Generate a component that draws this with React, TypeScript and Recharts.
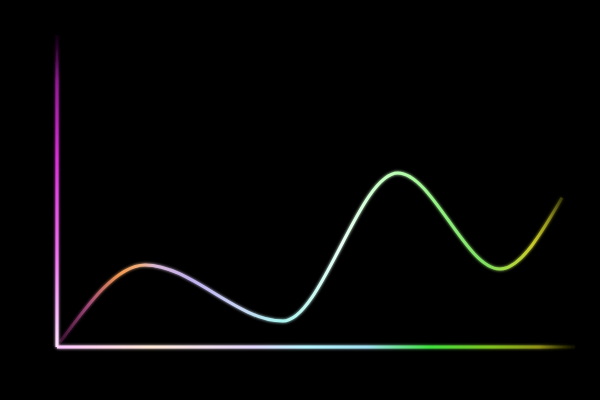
import React from 'react';
import { LineChart, Line, XAxis, YAxis } from 'recharts';

const xValues = [0.6, 17.0, 43.6, 65.8, 85.5, 97.5];
const yValues = [1.6, 26.3, 8.3, 55.8, 25.0, 47.8];

const data = xValues.map((x, i) => ({ x, y: yValues[i] }));

export default function App() {
  return (
    <div style={{ position: 'fixed', left: 0, top: 0, width: 600, height: 400, background: '#000' }}>
      <LineChart width={600} height={400} data={data} margin={{ top: 35, right: 25, bottom: 52, left: 56 }}>
        <defs>
          <filter id="glow" x="-20%" y="-20%" width="140%" height="140%">
            <feGaussianBlur stdDeviation="1.6" result="b" />
            <feMerge>
              <feMergeNode in="b" />
              <feMergeNode in="SourceGraphic" />
            </feMerge>
          </filter>
          <filter id="glowAxis" filterUnits="userSpaceOnUse" x="0" y="0" width="600" height="400">
            <feGaussianBlur stdDeviation="1.5" result="b" />
            <feMerge>
              <feMergeNode in="b" />
              <feMergeNode in="SourceGraphic" />
            </feMerge>
          </filter>
          <linearGradient id="lineGrad" gradientUnits="userSpaceOnUse" x1="57" y1="0" x2="575" y2="0">
            <stop offset="0%" stopColor="#4a1040" stopOpacity={0.5} />
            <stop offset="6%" stopColor="#a04878" />
            <stop offset="12%" stopColor="#f09850" />
            <stop offset="16%" stopColor="#f0b080" />
            <stop offset="19%" stopColor="#d8b8d8" />
            <stop offset="26%" stopColor="#c0b0f0" />
            <stop offset="36%" stopColor="#c8d8f4" />
            <stop offset="43%" stopColor="#a8f4f0" />
            <stop offset="55%" stopColor="#e8fff4" />
            <stop offset="66%" stopColor="#b8ffb0" />
            <stop offset="74%" stopColor="#90f080" />
            <stop offset="83%" stopColor="#80e060" />
            <stop offset="88%" stopColor="#b0d840" />
            <stop offset="92%" stopColor="#c8c828" />
            <stop offset="95%" stopColor="#a0a020" stopOpacity={0.8} />
            <stop offset="98%" stopColor="#505010" stopOpacity={0.4} />
          </linearGradient>
          <linearGradient id="yGrad" gradientUnits="userSpaceOnUse" x1="0" y1="35" x2="0" y2="347">
            <stop offset="0%" stopColor="#300830" stopOpacity={0.2} />
            <stop offset="15%" stopColor="#901890" />
            <stop offset="40%" stopColor="#d830d8" />
            <stop offset="70%" stopColor="#f070f0" />
            <stop offset="100%" stopColor="#ffe0ff" />
          </linearGradient>
          <linearGradient id="xGrad" gradientUnits="userSpaceOnUse" x1="57" y1="0" x2="575" y2="0">
            <stop offset="0%" stopColor="#ffc8ff" />
            <stop offset="18%" stopColor="#ffe8d8" />
            <stop offset="38%" stopColor="#e4d8ff" />
            <stop offset="48%" stopColor="#b8f4ff" />
            <stop offset="60%" stopColor="#a0e0f0" />
            <stop offset="72%" stopColor="#40e040" />
            <stop offset="84%" stopColor="#80c020" />
            <stop offset="93%" stopColor="#909018" />
            <stop offset="100%" stopColor="#303008" stopOpacity={0.2} />
          </linearGradient>
        </defs>
        <XAxis
          dataKey="x"
          type="number"
          domain={[0, 100]}
          height={1}
          tick={false}
          tickLine={false}
          stroke="url(#xGrad)"
          strokeWidth={3}
          axisLine={{ stroke: 'url(#xGrad)', strokeWidth: 3, filter: 'url(#glowAxis)' }}
        />
        <YAxis
          type="number"
          domain={[0, 100]}
          width={1}
          tick={false}
          tickLine={false}
          stroke="url(#yGrad)"
          strokeWidth={3}
          axisLine={{ stroke: 'url(#yGrad)', strokeWidth: 3, filter: 'url(#glowAxis)' }}
        />
        <Line
          type="monotone"
          dataKey="y"
          stroke="url(#lineGrad)"
          strokeWidth={3}
          dot={false}
          activeDot={false}
          filter="url(#glow)"
          isAnimationActive={false}
        />
      </LineChart>
    </div>
  );
}
